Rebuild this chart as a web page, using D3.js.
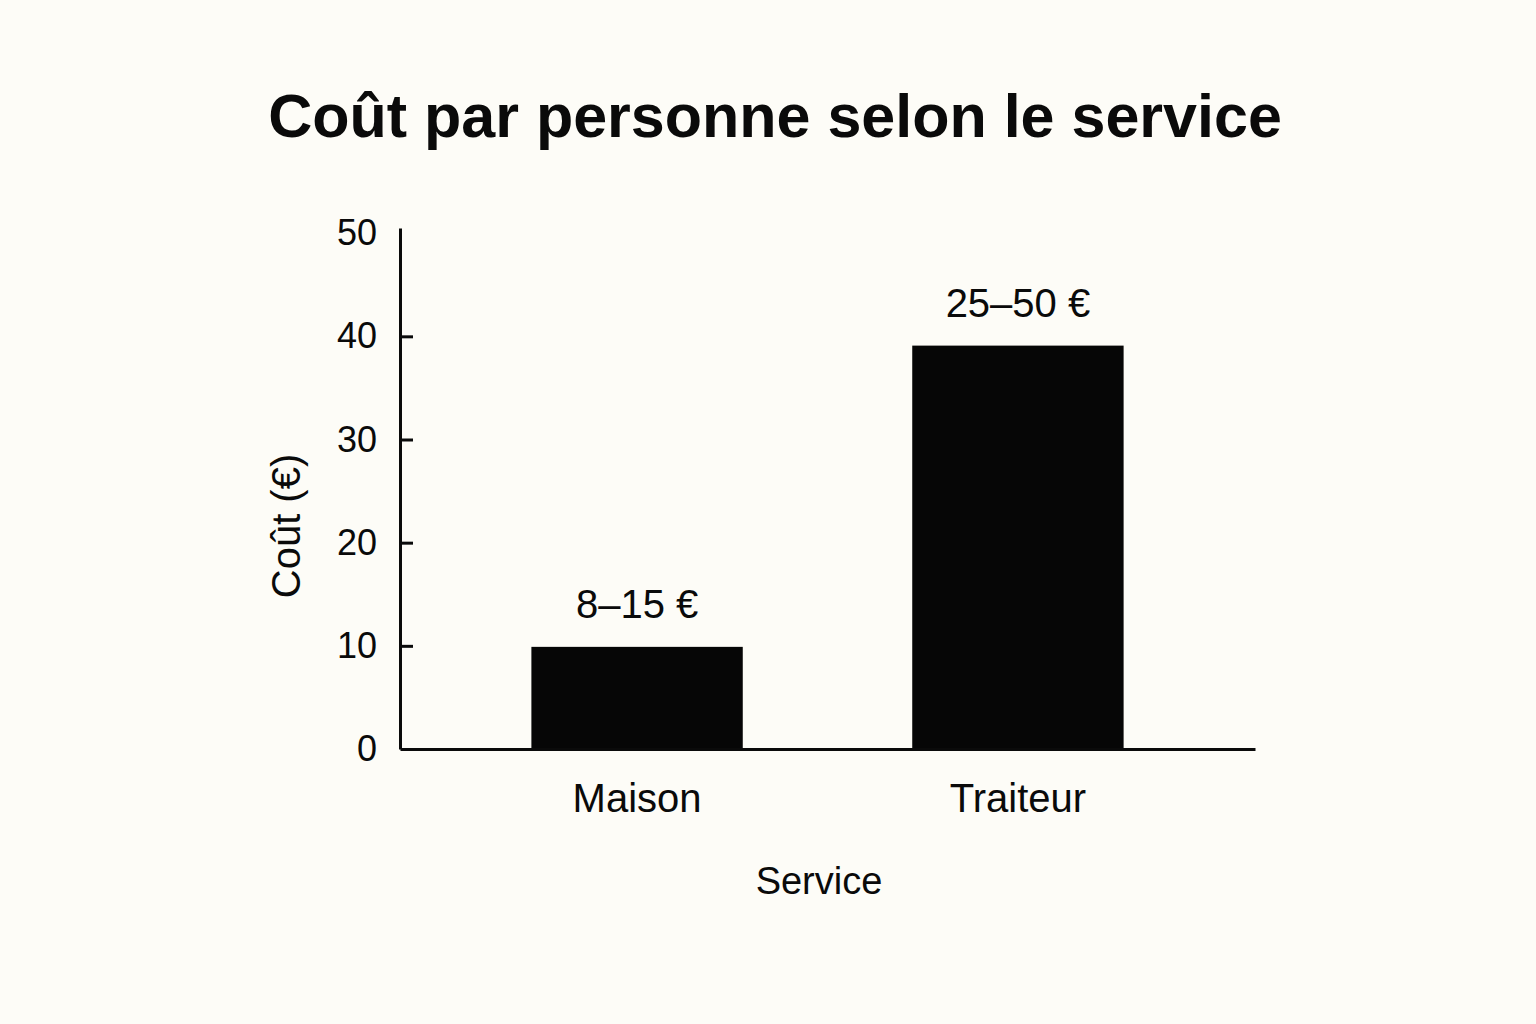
<!DOCTYPE html>
<html lang="fr">
<head>
    <meta charset="UTF-8">
    <title>Coût par personne selon le service</title>
    <script src="https://cdn.jsdelivr.net/npm/d3@7/dist/d3.min.js"></script>
    <style>
        body { margin: 0; background: #fdfcf7; }
        text { font-family: "Liberation Sans", Arial, sans-serif; fill: #0a0a0a; }
    </style>
</head>
<body>
<svg width="1536" height="1024" id="svgcontainer"></svg>
<script>
    // data
    const categories = ['Maison', 'Traiteur'];
    const values = [9.9, 39.1];
    const barLabels = ['8–15 €', '25–50 €'];
    const yTicks = [0, 10, 20, 30, 40, 50];

    const data = categories.map((c, i) => ({name: c, value: values[i], label: barLabels[i]}));

    const svg = d3.select('#svgcontainer');
    const width = +svg.attr('width');

    svg.append('rect').attr('width', width).attr('height', +svg.attr('height')).attr('fill', '#fdfcf7');

    const plot = {left: 400, right: 1255, top: 228, bottom: 749};

    const xScale = d3.scaleBand().domain(categories).range([plot.left, plot.right])
        .paddingInner(0.445).paddingOuter(0.345);
    const yScale = d3.scaleLinear().domain([0, 50.5]).range([plot.bottom, plot.top]);

    // title
    svg.append('text').text('Coût par personne selon le service')
        .attr('x', 775).attr('y', 137).attr('text-anchor', 'middle')
        .attr('font-size', 61).attr('font-weight', 'bold');

    // bars
    svg.selectAll('.bar').data(data).join('rect').attr('class', 'bar')
        .attr('x', d => xScale(d.name)).attr('width', xScale.bandwidth())
        .attr('y', d => yScale(d.value)).attr('height', d => yScale(0) - yScale(d.value))
        .attr('fill', '#060606');

    // value labels
    svg.selectAll('.barlabel').data(data).join('text').attr('class', 'barlabel')
        .text(d => d.label)
        .attr('x', d => xScale(d.name) + xScale.bandwidth() / 2)
        .attr('y', d => yScale(d.value) - 29)
        .attr('text-anchor', 'middle').attr('font-size', 40);

    // y axis: labels on the left, short ticks pointing inwards
    const yAxis = d3.axisLeft(yScale).tickValues(yTicks).tickSize(0).tickPadding(23).tickSizeOuter(0);
    const gy = svg.append('g').attr('transform', `translate(${plot.left},0)`).call(yAxis);
    gy.select('.domain').attr('stroke', '#0a0a0a').attr('stroke-width', 3);
    gy.selectAll('.tick text').attr('font-size', 36).attr('font-family', '"Liberation Sans", Arial, sans-serif')
        .attr('fill', '#0a0a0a');
    gy.selectAll('.tick').filter(d => d > 0 && d < 50).append('line')
        .attr('x1', 0).attr('x2', 13).attr('stroke', '#0a0a0a').attr('stroke-width', 3);

    // x axis
    const xAxis = d3.axisBottom(xScale).tickSize(0).tickPadding(35).tickSizeOuter(0);
    const gx = svg.append('g').attr('transform', `translate(0,${plot.bottom})`).call(xAxis);
    gx.select('.domain').attr('stroke', '#0a0a0a').attr('stroke-width', 3);
    gx.selectAll('.tick text').attr('font-size', 40).attr('font-family', '"Liberation Sans", Arial, sans-serif')
        .attr('fill', '#0a0a0a');

    // axis titles
    svg.append('text').text('Service')
        .attr('x', 819).attr('y', 894).attr('text-anchor', 'middle').attr('font-size', 38);
    svg.append('text').text('Coût (€)')
        .attr('transform', 'translate(300,526) rotate(-90)')
        .attr('text-anchor', 'middle').attr('font-size', 40);
</script>
</body>
</html>
